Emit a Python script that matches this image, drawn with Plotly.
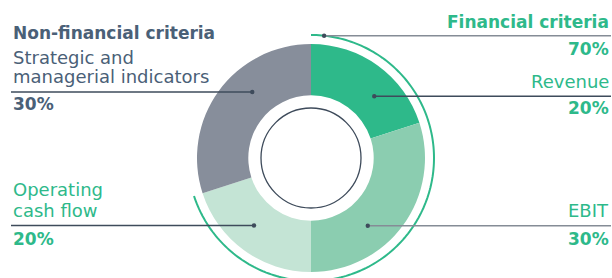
import numpy as np
import plotly.graph_objects as go

# ---- data ----
categories = ["Revenue", "EBIT", "Operating cash flow", "Strategic and managerial indicators"]
values = [20, 30, 20, 30]
groups = ["Financial criteria", "Financial criteria", "Financial criteria", "Non-financial criteria"]
group_names = ["Financial criteria", "Non-financial criteria"]

# ---- style ----
W, H = 612, 278
CX, CY = 311, 158
R_OUT = 114
HOLE = 0.55
R_INNER_LINE = 50
R_ARC = 123
GREEN = "#2EB98A"
DARK = "#4A6077"
LINE_DARK = "#3E4B5B"
LINE_GREY = "#858C96"
slice_colors = ["#2EB98A", "#8BCDB0", "#C4E4D5", "#878E9B"]
FONT = "DejaVu Sans"
FS_BOLD = 17
FS_REG = 18


def px(x):
    return x / W


def py(y):
    return 1 - y / H


total = sum(values)
fin_total = sum(v for v, g in zip(values, groups) if g == group_names[0])
nonfin_total = total - fin_total

fig = go.Figure()
fig.add_trace(go.Pie(
    labels=categories, values=values, hole=HOLE, sort=False, direction="clockwise",
    rotation=0, marker=dict(colors=slice_colors, line=dict(width=0)),
    textinfo="none", hoverinfo="label+percent", showlegend=False,
    domain=dict(x=[px(CX - R_OUT), px(CX + R_OUT)], y=[py(CY + R_OUT), py(CY - R_OUT)]),
))

shapes = []
# inner circle
shapes.append(dict(type="circle", xref="paper", yref="paper",
                   x0=px(CX - R_INNER_LINE), x1=px(CX + R_INNER_LINE),
                   y0=py(CY + R_INNER_LINE), y1=py(CY - R_INNER_LINE),
                   line=dict(color=LINE_DARK, width=1.3), layer="above"))
# outer arc spanning financial share
end_deg = 360 * fin_total / total
angs = np.radians(np.linspace(0, end_deg, 200))
pts = [(px(CX + R_ARC * np.sin(a)), py(CY - R_ARC * np.cos(a))) for a in angs]
path = "M " + " L ".join(f"{x:.5f},{y:.5f}" for x, y in pts)
shapes.append(dict(type="path", xref="paper", yref="paper", path=path,
                   line=dict(color=GREEN, width=2), layer="above"))

R_MID = R_OUT * (1 + HOLE) / 2


def ring_x(y, side):
    dy = y - CY
    return CX + side * np.sqrt(max(R_MID ** 2 - dy ** 2, 0))


def leader(y, x_dot, x_end, color):
    shapes.append(dict(type="line", xref="paper", yref="paper",
                       x0=px(x_dot), x1=px(x_end), y0=py(y), y1=py(y),
                       line=dict(color=color, width=1.5), layer="above"))
    r = 2.2
    shapes.append(dict(type="circle", xref="paper", yref="paper",
                       x0=px(x_dot - r), x1=px(x_dot + r), y0=py(y + r), y1=py(y - r),
                       fillcolor=LINE_DARK, line=dict(width=0), layer="above"))


# leaders
LX, RX = 11, 611
leader(92, ring_x(92, -1), LX, LINE_DARK)          # non-financial
fy = 35.7
fx = CX + np.sqrt(R_ARC ** 2 - (fy - CY) ** 2)
leader(fy, fx, RX, LINE_GREY)                      # financial
leader(96.3, ring_x(96.3, 1), RX, LINE_DARK)       # revenue
leader(225.7, ring_x(225.7, 1), RX, LINE_GREY)     # EBIT
leader(225.5, ring_x(225.5, -1), LX, LINE_DARK)    # OCF

ann = []


def txt(t, x, y, anchor, color, bold=False):
    ann.append(dict(text=f"<b>{t}</b>" if bold else t, x=px(x), y=py(y),
                    xref="paper", yref="paper", xanchor=anchor, yanchor="middle",
                    showarrow=False,
                    font=dict(family=FONT, size=FS_BOLD if bold else FS_REG, color=color)))


def pct(v):
    return f"{round(100 * v / total)}%"


txt(group_names[1], LX, 33, "left", DARK, True)
txt("Strategic and", LX, 57, "left", DARK)
txt("managerial indicators", LX, 76, "left", DARK)
txt(pct(nonfin_total), LX, 103.5, "left", DARK, True)

txt(group_names[0], RX, 22, "right", GREEN, True)
txt(pct(fin_total), RX, 49, "right", GREEN, True)
txt(categories[0], RX, 82, "right", GREEN)
txt(pct(values[0]), RX, 108, "right", GREEN, True)
txt(categories[1], RX, 210.5, "right", GREEN)
txt(pct(values[1]), RX, 238.5, "right", GREEN, True)

txt("Operating", LX, 189.5, "left", GREEN)
txt("cash flow", LX, 210.5, "left", GREEN)
txt(pct(values[2]), LX, 238.5, "left", GREEN, True)

fig.update_layout(width=W, height=H, margin=dict(l=0, r=0, t=0, b=0),
                  paper_bgcolor="white", plot_bgcolor="white",
                  shapes=shapes, annotations=ann)
fig.write_html("out.html", config={"displayModeBar": False},
               post_script="document.body.style.margin='0';document.body.style.padding='0';")
